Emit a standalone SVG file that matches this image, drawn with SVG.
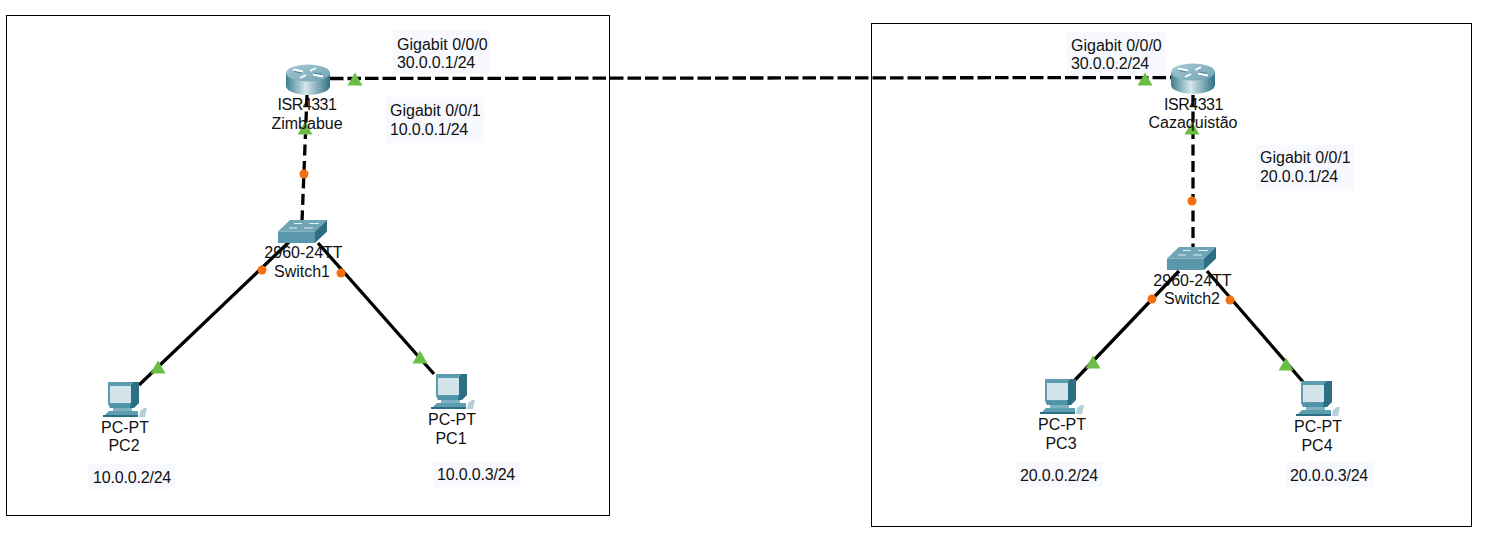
<svg xmlns="http://www.w3.org/2000/svg" width="1508" height="548" viewBox="0 0 1508 548">
<style>
text{font-family:"Liberation Sans",Arial,sans-serif;font-size:16px;fill:#111}
.c{text-anchor:middle}
.n{letter-spacing:-.18px}
.r{letter-spacing:-.5px}
.box{fill:none;stroke:#000;stroke-width:1}
.note{fill:#f7f9ff}
.link{fill:none;stroke:#000;stroke-width:3.3}
.dash{stroke-dasharray:11 5.5}
.long{stroke-dasharray:13.500 4}
.up{fill:#6cbd45}
.dot{fill:#f2700f}
</style>
<defs>
<linearGradient id="rs" x1="0" x2="1" y1="0" y2="0"><stop offset="0" stop-color="#3d7f90"/><stop offset=".45" stop-color="#d5e7ec"/><stop offset="1" stop-color="#2f7083"/></linearGradient>
<linearGradient id="rt" x1="0" x2="1" y1="0" y2="1"><stop offset="0" stop-color="#a6cad5"/><stop offset="1" stop-color="#6fa3b3"/></linearGradient>
<g id="router">
<path d="M-22 0V13A22 9 0 0 0 22 13V0Z" fill="url(#rs)"/>
<ellipse cx="0" cy="0" rx="22" ry="8.500" fill="url(#rt)"/>
<path d="M-15 -3.500L-5 -1.500M15 3.500L5 1.500M-8 5L-2 2M8 -5L2 -2" stroke="#fff" stroke-width="1.800" fill="none"/>
<path d="M-14 -1.500L-6 0M14 1.500L6 0" stroke="#2c6f84" stroke-width=".7" fill="none"/>
</g>
<g id="switch">
<path d="M1 11.500L13 0H50L38 11.500Z" fill="#6fa5b6"/>
<path d="M1 11.500H38V23H1Z" fill="#5a97ab"/>
<path d="M38 11.500L50 0V11.500L38 23Z" fill="#2c6f84"/>
<path d="M17 3.500H25M32 3.500H42M12 8H20M27 8H36" stroke="#dfeef2" stroke-width="1.200"/>
</g>
<g id="pc">
<path d="M3 0H28L25 4V22H3Z" fill="#5e9db0"/>
<path d="M28 0H34V21L29 26H25V4Z" fill="#2c6f84"/>
<rect x="5" y="4" width="21" height="17" fill="#d3e3ea"/>
<path d="M3 22H26L25 26H5Z" fill="#4f93a8"/>
<path d="M8 26H27V29H8Z" fill="#7fb0bf"/>
<path d="M4 29H33L33 35H-2Z" fill="#5e9db0"/>
<path d="M-2 33H33V35H-2Z" fill="#2c6f84"/>
<path d="M34 35L35 29L39 26H42L40 35Z" fill="#b5d0d9"/>
</g>
<path id="tri" d="M0 -7.500L7.500 5.500H-7.500Z"/>
</defs>
<rect class="box" x="6.500" y="15.500" width="603" height="500"/>
<rect class="box" x="871.500" y="23.500" width="600" height="503"/>
<g id="connectors">
<path class="link long" d="M330 78.500L1171 77.500"/>
<path class="link dash" d="M307 95L302 222"/>
<path class="link" d="M289 242L139 385"/>
<path class="link" d="M318 243L434 374"/>
<path class="link dash" d="M1193 95V247"/>
<path class="link" d="M1179 271L1075 380"/>
<path class="link" d="M1207 271L1304 383"/>
</g>
<g id="labels">
<g><rect class="note" x="393" y="30" width="98" height="44"/><text x="397" y="50">Gigabit 0/0/0</text><text class="n" x="397" y="68">30.0.0.1/24</text></g>
<g><rect class="note" x="386" y="97" width="98" height="46"/><text x="390" y="116">Gigabit 0/0/1</text><text class="n" x="390" y="135">10.0.0.1/24</text></g>
<g><rect class="note" x="1067" y="32" width="98" height="44"/><text x="1071" y="51">Gigabit 0/0/0</text><text class="n" x="1071" y="69">30.0.0.2/24</text></g>
<g><rect class="note" x="1256" y="145" width="98" height="44"/><text x="1260" y="163">Gigabit 0/0/1</text><text class="n" x="1260" y="182">20.0.0.1/24</text></g>
<g><rect class="note" x="88" y="464" width="87" height="25"/><text class="n" x="93" y="483">10.0.0.2/24</text></g>
<g><rect class="note" x="433" y="462" width="87" height="25"/><text class="n" x="437" y="480">10.0.0.3/24</text></g>
<g><rect class="note" x="1016" y="462" width="87" height="25"/><text class="n" x="1020" y="481">20.0.0.2/24</text></g>
<g><rect class="note" x="1286" y="462" width="87" height="25"/><text class="n" x="1290" y="481">20.0.0.3/24</text></g>
</g>
<g id="port-lights">
<use href="#tri" class="up" x="355" y="80"/>
<use href="#tri" class="up" x="305" y="129"/>
<circle class="dot" cx="304" cy="174" r="4.500"/>
<circle class="dot" cx="262" cy="270" r="4.500"/>
<circle class="dot" cx="341" cy="273" r="4.500"/>
<use href="#tri" class="up" x="158" y="368"/>
<use href="#tri" class="up" x="420" y="358"/>
<use href="#tri" class="up" x="1145" y="80"/>
<use href="#tri" class="up" x="1192" y="129"/>
<circle class="dot" cx="1192" cy="201" r="4.500"/>
<circle class="dot" cx="1152" cy="299" r="4.500"/>
<circle class="dot" cx="1230" cy="300" r="4.500"/>
<use href="#tri" class="up" x="1093" y="363"/>
<use href="#tri" class="up" x="1286" y="365"/>
</g>
<g id="router-zimbabue"><use href="#router" x="308" y="73"/><text class="c r" x="307" y="110">ISR4331</text><text class="c" x="307" y="129">Zimbabue</text></g>
<g id="router-cazaquistao"><use href="#router" x="1193" y="72"/><text class="c r" x="1193.500" y="110">ISR4331</text><text class="c" x="1193" y="128">Cazaquistão</text></g>
<g id="switch1"><use href="#switch" x="277" y="220"/><text class="c" x="303.500" y="258">2960-24TT</text><text class="c" x="302" y="277">Switch1</text></g>
<g id="switch2"><use href="#switch" x="1166" y="247"/><text class="c" x="1192.500" y="286">2960-24TT</text><text class="c" x="1192" y="304">Switch2</text></g>
<g id="pc2"><use href="#pc" x="105" y="382"/><text class="c" x="125" y="433">PC-PT</text><text class="c" x="124" y="451">PC2</text></g>
<g id="pc1"><use href="#pc" x="433" y="374"/><text class="c" x="452" y="425">PC-PT</text><text class="c" x="451" y="444">PC1</text></g>
<g id="pc3"><use href="#pc" x="1042" y="379"/><text class="c" x="1062" y="430">PC-PT</text><text class="c" x="1061" y="449">PC3</text></g>
<g id="pc4"><use href="#pc" x="1298" y="381"/><text class="c" x="1318" y="432">PC-PT</text><text class="c" x="1317" y="451">PC4</text></g>
</svg>
